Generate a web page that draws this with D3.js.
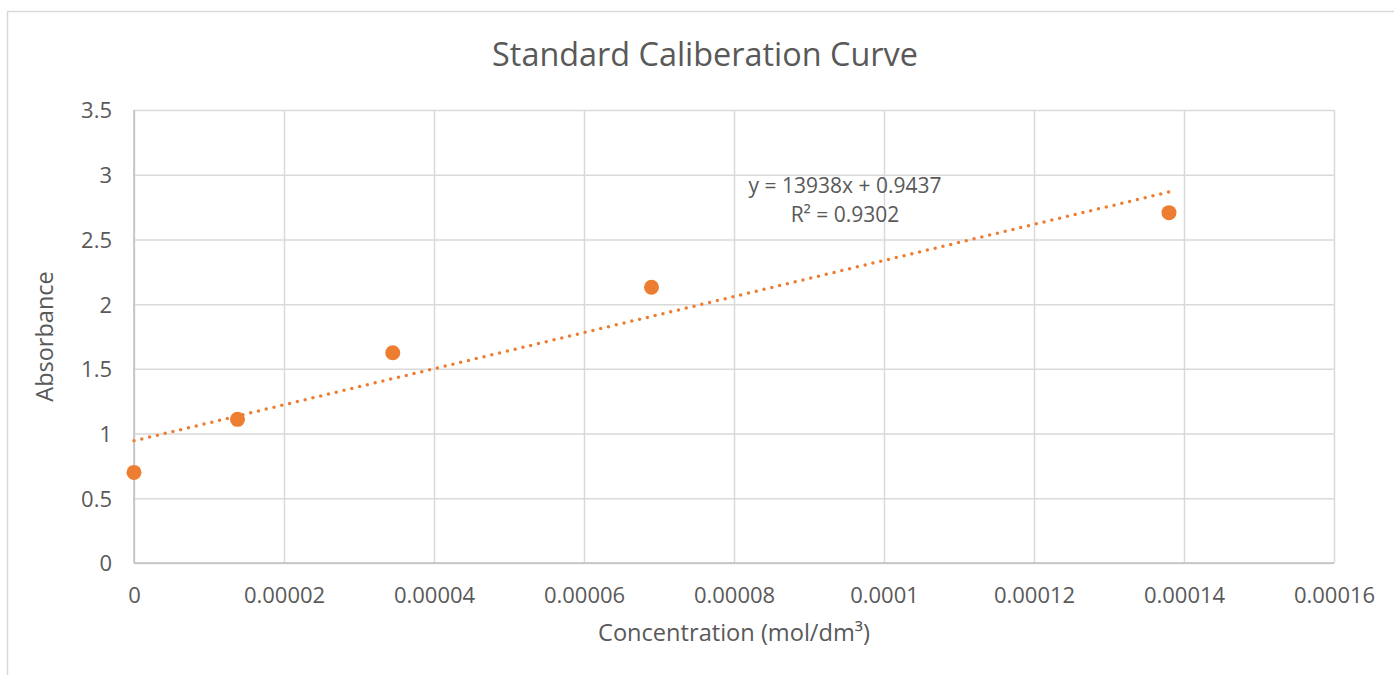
<!DOCTYPE html>
<html>
<head>
<meta charset="utf-8">
<script src="https://cdn.jsdelivr.net/npm/d3@7"></script>
<style>
  html, body { margin: 0; padding: 0; background: #ffffff; }
  svg { display: block; }
  text { font-family: "Open Sans", "Noto Sans", sans-serif; fill: #595959; }
</style>
</head>
<body>
<svg id="chart" width="1394" height="675"></svg>
<script>
// ---- data ----
const concentrations = [0, 0.0000138, 0.0000345, 0.000069, 0.000138];
const absorbances = [0.70, 1.11, 1.625, 2.13, 2.707];
const xTicks = [0, 0.00002, 0.00004, 0.00006, 0.00008, 0.0001, 0.00012, 0.00014, 0.00016];
const xTickLabels = ["0", "0.00002", "0.00004", "0.00006", "0.00008", "0.0001", "0.00012", "0.00014", "0.00016"];
const yTicks = [0, 0.5, 1, 1.5, 2, 2.5, 3, 3.5];
const yTickLabels = ["0", "0.5", "1", "1.5", "2", "2.5", "3", "3.5"];
const trendSlope = [13938];
const trendIntercept = [0.9437];
const trendLabels = ["y = 13938x + 0.9437", "R² = 0.9302"];
const chartTitle = "Standard Caliberation Curve";
const xTitle = "Concentration (mol/dm³)";
const yTitle = "Absorbance";

// ---- layout ----
const svg = d3.select("#chart");
const plot = { left: 134, top: 110, right: 1334, bottom: 563 };
const orange = "#ED7D31";

const x = d3.scaleLinear().domain([0, 0.00016]).range([plot.left, plot.right]);
const y = d3.scaleLinear().domain([0, 3.5]).range([plot.bottom, plot.top]);

// chart area border
svg.append("rect")
  .attr("x", 7.5).attr("y", 11.5)
  .attr("width", 1420).attr("height", 720)
  .attr("fill", "#fff").attr("stroke", "#d9d9d9").attr("stroke-width", 1.5);

// title
svg.append("text")
  .attr("x", 705).attr("y", 66)
  .attr("text-anchor", "middle")
  .style("font-size", "32.4px")
  .text(chartTitle);

// gridlines via axes
const gx = svg.append("g")
  .attr("transform", `translate(0,${plot.bottom})`)
  .call(d3.axisBottom(x).tickValues(xTicks).tickSize(-(plot.bottom - plot.top)).tickFormat((d, i) => xTickLabels[i]));
gx.select(".domain").remove();
gx.selectAll(".tick line").attr("stroke", "#d9d9d9").attr("stroke-width", 1.5);
gx.selectAll(".tick text")
  .attr("y", 40).attr("dy", null)
  .attr("fill", "#595959")
  .style("font-size", "22px")
  .style("font-family", "\"Open Sans\", sans-serif");

const gy = svg.append("g")
  .attr("transform", `translate(${plot.left},0)`)
  .call(d3.axisLeft(y).tickValues(yTicks).tickSize(-(plot.right - plot.left)).tickFormat((d, i) => yTickLabels[i]));
gy.select(".domain").remove();
gy.selectAll(".tick line").attr("stroke", "#d9d9d9").attr("stroke-width", 1.5);
gy.selectAll(".tick text")
  .attr("x", -22).attr("dy", "0.36em")
  .attr("fill", "#595959")
  .style("font-size", "22px")
  .style("font-family", "\"Open Sans\", sans-serif");

// axis lines
svg.append("line")
  .attr("x1", plot.left).attr("x2", plot.left)
  .attr("y1", plot.top).attr("y2", plot.bottom)
  .attr("stroke", "#bfbfbf").attr("stroke-width", 1.5);
svg.append("line")
  .attr("x1", plot.left).attr("x2", plot.right)
  .attr("y1", plot.bottom).attr("y2", plot.bottom)
  .attr("stroke", "#bfbfbf").attr("stroke-width", 1.5);

// trendline
const xMax = d3.max(concentrations);
const trendPts = [0, xMax].map(c => [x(c), y(trendSlope[0] * c + trendIntercept[0])]);
svg.append("path")
  .attr("d", d3.line()(trendPts))
  .attr("fill", "none")
  .attr("stroke", orange)
  .attr("stroke-width", 3.5)
  .attr("stroke-linecap", "round")
  .attr("stroke-dasharray", "0 8");

// points
svg.append("g").selectAll("circle")
  .data(concentrations.map((c, i) => [c, absorbances[i]]))
  .join("circle")
  .attr("cx", d => x(d[0]))
  .attr("cy", d => y(d[1]))
  .attr("r", 7.5)
  .attr("fill", orange);

// trendline label
svg.append("g").selectAll("text")
  .data(trendLabels)
  .join("text")
  .attr("x", 845)
  .attr("y", (d, i) => 193 + i * 29)
  .attr("text-anchor", "middle")
  .style("font-size", "21px")
  .text(d => d);

// axis titles
svg.append("text")
  .attr("x", (plot.left + plot.right) / 2).attr("y", 641)
  .attr("text-anchor", "middle")
  .style("font-size", "23.6px")
  .text(xTitle);

svg.append("text")
  .attr("transform", `translate(53,${(plot.top + plot.bottom) / 2}) rotate(-90)`)
  .attr("text-anchor", "middle")
  .style("font-size", "23.5px")
  .text(yTitle);
</script>
</body>
</html>
